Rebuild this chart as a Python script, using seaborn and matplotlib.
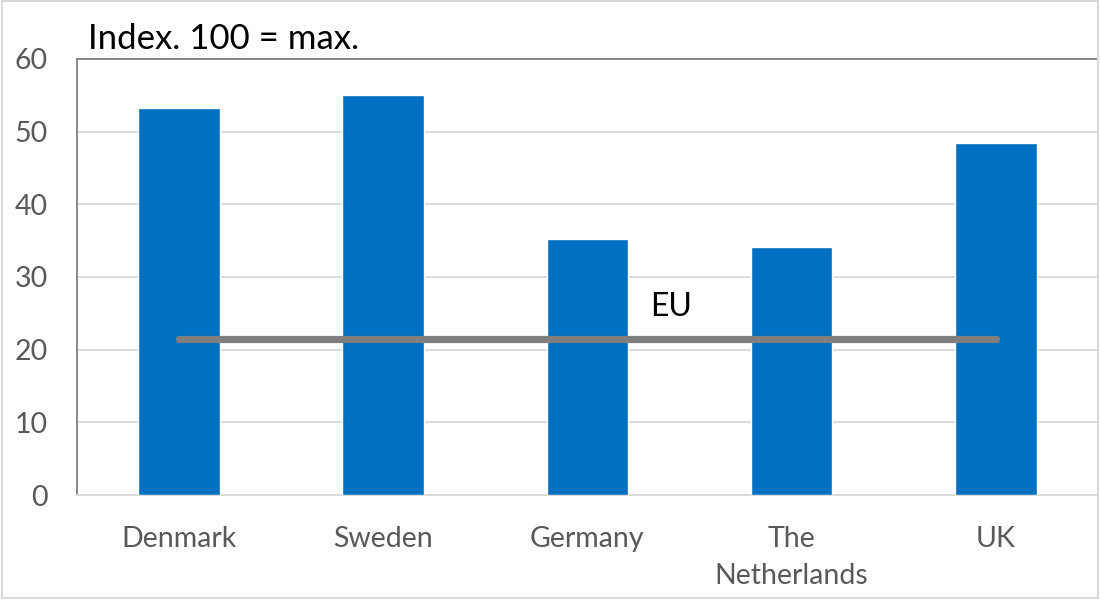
import matplotlib
matplotlib.use("Agg")
import matplotlib.pyplot as plt
import seaborn as sns
import pandas as pd

# --- data ---
countries = ["Denmark", "Sweden", "Germany", "The\nNetherlands", "UK"]
index_values = [53.2, 55.1, 35.2, 34.1, 48.4]
eu_value = 21.5
y_ticks = [0, 10, 20, 30, 40, 50, 60]

BAR_COLOR = "#0070C0"
EU_COLOR = "#7F7F7F"
GRID_COLOR = "#D9D9D9"
TEXT_GREY = "#595959"

sns.set_theme(style="white")
plt.rcParams["font.family"] = ["Lato", "DejaVu Sans"]

df = pd.DataFrame({"country": countries, "value": index_values})

fig = plt.figure(figsize=(11, 6), dpi=100)
ax = fig.add_axes([0.07, 0.175, 0.928, 0.7267])

sns.barplot(data=df, x="country", y="value", color=BAR_COLOR,
            saturation=1, width=0.4, ax=ax, zorder=3)

# EU average as a flat line across all countries
ax.plot([0, len(countries) - 1], [eu_value, eu_value], color=EU_COLOR,
        lw=5.2, solid_capstyle="round", zorder=4)
ax.text(2.41, eu_value + 4.4, "EU", fontsize=23, color="black",
        ha="center", va="center", zorder=5)

ax.set_ylim(0, 60)
ax.set_yticks(y_ticks)
ax.set_xlim(-0.5, len(countries) - 0.5)
ax.set_xlabel("")
ax.set_ylabel("")
ax.yaxis.grid(True, color=GRID_COLOR, lw=1.3, zorder=0)
ax.set_axisbelow(True)

for side in ["left", "top"]:
    ax.spines[side].set_color("#808080")
    ax.spines[side].set_linewidth(1.3)
ax.spines["bottom"].set_color(GRID_COLOR)
ax.spines["bottom"].set_linewidth(1.3)
ax.spines["right"].set_visible(False)

ax.tick_params(axis="y", length=0, pad=21, labelsize=20.5, labelcolor=TEXT_GREY)
ax.tick_params(axis="x", length=0, pad=22.5, labelsize=20.5, labelcolor=TEXT_GREY)
for lbl in ax.get_xticklabels():
    lbl.set_linespacing(1.5)
    lbl.set_va("top")

fig.text(0.08, 0.918, "Index. 100 = max.", fontsize=25, color="black",
         ha="left", va="baseline")

# thin frame around the whole chart, like the exported picture
fig.patches.append(plt.Rectangle((0.002, 0.004), 0.996, 0.994,
                                 transform=fig.transFigure, fill=False,
                                 edgecolor=GRID_COLOR, lw=1.5))

plt.savefig("out.png", dpi=100)
